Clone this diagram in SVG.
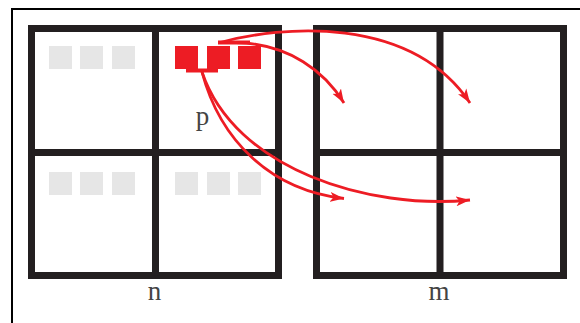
<svg xmlns="http://www.w3.org/2000/svg" width="580" height="323" viewBox="0 0 580 323">
  <style>
    .grid { fill: none; stroke: #231f20; stroke-width: 7; }
    .cellg { fill: #e6e6e6; }
    .red { fill: #ed1c24; }
    .arr { fill: none; stroke: #ed1c24; stroke-width: 2.8; marker-end: url(#ah); }
    .lbl { font-family: "Liberation Serif", "DejaVu Serif", serif; font-size: 27px; fill: #444444; text-anchor: middle; }
  </style>
  <defs>
    <marker id="ah" markerUnits="userSpaceOnUse" markerWidth="15" markerHeight="11" refX="14" refY="5.5" orient="auto" viewBox="0 0 15 11">
      <path d="M0,0.5 L14,5.5 L0,10.5 L3.5,5.5 z" fill="#ed1c24"/>
    </marker>
  </defs>
  <rect x="12" y="9" width="620" height="400" fill="none" stroke="#000" stroke-width="2"/>

  <g id="grid-n">
    <rect class="grid" x="31.5" y="28.5" width="247" height="247"/>
    <line class="grid" x1="155.5" y1="28.5" x2="155.5" y2="275.5"/>
    <line class="grid" x1="31.5" y1="152.5" x2="278.5" y2="152.5"/>
    <rect class="cellg" x="49" y="46" width="23" height="23"/>
    <rect class="cellg" x="80" y="46" width="23" height="23"/>
    <rect class="cellg" x="112" y="46" width="23" height="23"/>
    <rect class="cellg" x="49" y="172" width="23" height="23"/>
    <rect class="cellg" x="80" y="172" width="23" height="23"/>
    <rect class="cellg" x="112" y="172" width="23" height="23"/>
    <rect class="cellg" x="175" y="172" width="23" height="23"/>
    <rect class="cellg" x="207" y="172" width="23" height="23"/>
    <rect class="cellg" x="238" y="172" width="23" height="23"/>
    <text class="lbl" x="154.5" y="299.5">n</text>
  </g>

  <g id="p">
    <rect class="red" x="175" y="46" width="23" height="23"/>
    <rect class="red" x="207" y="46" width="23" height="23"/>
    <rect class="red" x="238" y="46" width="23" height="23"/>
    <rect class="red" x="186" y="68.5" width="32" height="4"/>
    <rect class="red" x="218" y="40.5" width="32" height="4"/>
    <text class="lbl" x="202.5" y="124.5">p</text>
  </g>

  <g id="grid-m">
    <rect class="grid" x="316.5" y="28.5" width="247" height="247"/>
    <line class="grid" x1="440" y1="28.5" x2="440" y2="275.5"/>
    <line class="grid" x1="316.5" y1="152.5" x2="563.5" y2="152.5"/>
    <text class="lbl" x="439" y="299.5">m</text>
  </g>

  <g id="connectors">
    <path class="arr" d="M236,42.5 C290,44 325,72 344,103"/>
    <path class="arr" d="M220,42.5 C280,26 410,14 470,103"/>
    <path class="arr" d="M202,72 C220,140 270,190 344,198.5"/>
    <path class="arr" d="M202,72 C235,170 370,210 470,200"/>
  </g>
</svg>
